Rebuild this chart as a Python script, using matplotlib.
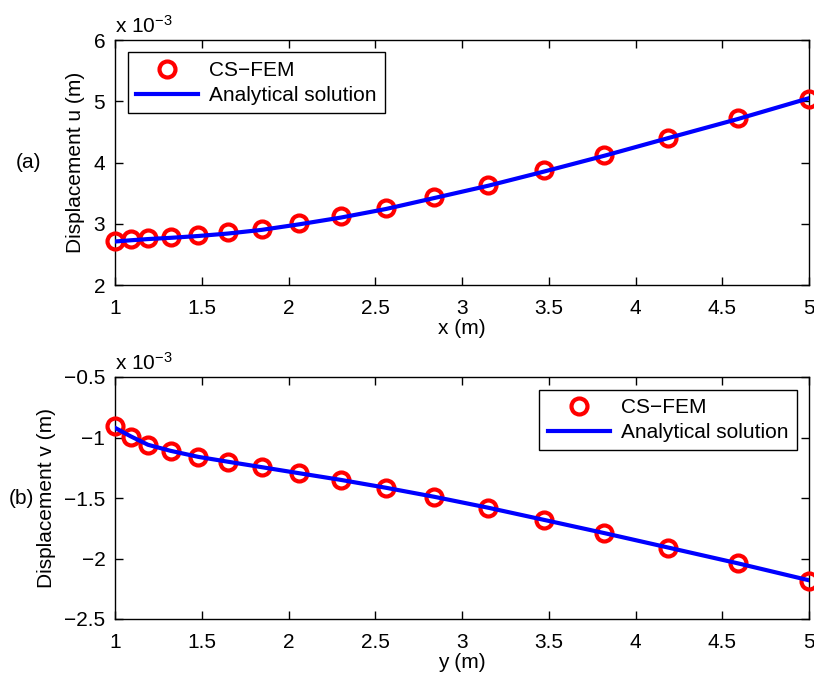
""" Displacement u and v along x and y: CS-FEM vs analytical solution. """

import matplotlib.pyplot as plt

plt.rcParams['font.family'] = ['Liberation Sans', 'DejaVu Sans']
plt.rcParams['font.size'] = 15
plt.rcParams['mathtext.default'] = 'regular'

# Sample positions (m)
pos = [1.0, 1.09, 1.19, 1.32, 1.48, 1.65, 1.845, 2.06, 2.30, 2.56,
       2.84, 3.15, 3.47, 3.82, 4.19, 4.59, 5.0]

# Displacement u (x 1e-3 m)
u_fem = [2.72, 2.75, 2.77, 2.79, 2.82, 2.86, 2.92, 3.02, 3.13, 3.25,
         3.44, 3.63, 3.87, 4.12, 4.40, 4.72, 5.04]
u_exact = [2.71, 2.73, 2.75, 2.77, 2.80, 2.84, 2.90, 2.99, 3.10, 3.24,
           3.42, 3.62, 3.85, 4.11, 4.40, 4.71, 5.05]

# Displacement v (x 1e-3 m)
v_fem = [-0.905, -0.993, -1.065, -1.114, -1.164, -1.205, -1.246, -1.296, -1.351, -1.415,
         -1.489, -1.580, -1.682, -1.789, -1.911, -2.040, -2.183]
v_exact = [-0.92, -0.99, -1.06, -1.11, -1.16, -1.20, -1.245, -1.295, -1.35, -1.415,
           -1.49, -1.58, -1.68, -1.79, -1.91, -2.04, -2.18]

fig = plt.figure(figsize=(8.14, 6.79), dpi=100)
ax1 = fig.add_axes([115/814, 1 - 285/679, 694/814, 245/679])
ax2 = fig.add_axes([115/814, 1 - 619/679, 694/814, 242/679])

panels = [
    (ax1, u_fem, u_exact, (2, 6), [2, 3, 4, 5, 6], 'x (m)', 'Displacement u (m)', 'upper left', '(a)', 0),
    (ax2, v_fem, v_exact, (-2.5, -0.5), [-2.5, -2, -1.5, -1, -0.5], 'y (m)', 'Displacement v (m)', 'upper right', '(b)', -0.01),
]

for ax, fem, exact, ylim, yticks, xlabel, ylabel, loc, tag, tag_dx in panels:
    ax.plot(pos, fem, 'o', ms=11.5, mfc='none', mec='red', mew=3, label='CS\u2212FEM', clip_on=False, zorder=3)
    ax.plot(pos, exact, '-', color='blue', lw=3, label='Analytical solution', zorder=4)
    ax.set_xlim(1, 5)
    ax.set_ylim(*ylim)
    ax.set_xticks([1, 1.5, 2, 2.5, 3, 3.5, 4, 4.5, 5])
    ax.set_xticklabels(['1', '1.5', '2', '2.5', '3', '3.5', '4', '4.5', '5'])
    ax.set_yticks(yticks)
    ax.set_yticklabels([('%g' % t).replace('-', '\u2212') for t in yticks])
    ax.tick_params(direction='in', top=True, right=True, length=6, width=1, pad=7)
    ax.tick_params(axis='x', pad=10)
    ax.set_xlabel(xlabel, labelpad=1)
    ax.set_ylabel(ylabel, labelpad=6)
    ax.text(0, 1.03, 'x 10$^{\u22123}$', transform=ax.transAxes, fontsize=15)
    ax.text(-0.125 + tag_dx, 0.5, tag, transform=ax.transAxes, ha='center', va='center', fontsize=15)
    leg = ax.legend(loc=loc, fancybox=False, edgecolor='black', framealpha=1,
                    borderaxespad=0.6, handlelength=3.0, labelspacing=0.3, borderpad=0.4,
                    handletextpad=0.5)
    leg.get_frame().set_linewidth(1)
    for s in ax.spines.values():
        s.set_linewidth(1)

fig.savefig('out.png', dpi=100)
